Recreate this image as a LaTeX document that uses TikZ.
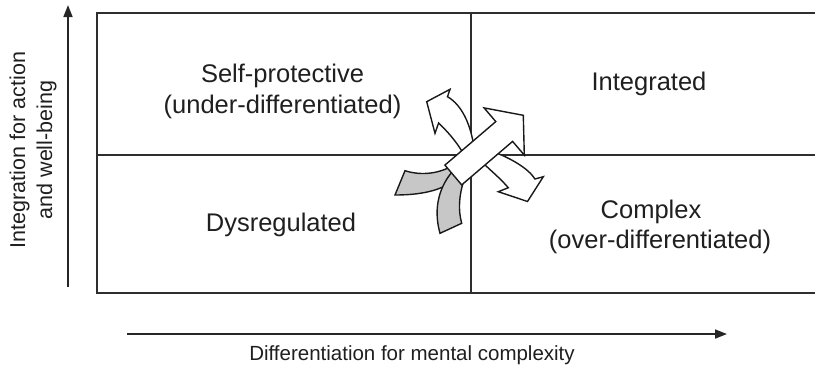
\documentclass[tikz,border=0pt]{standalone}
\usepackage{fontspec}
\setmainfont{Liberation Sans}
\usetikzlibrary{arrows.meta}
\begin{document}
\begin{tikzpicture}[x=1pt,y=-1pt,
  gridline/.style={line width=1.7pt, draw=black!82, line cap=rect},
  axisline/.style={line width=1.7pt, draw=black!85, -{Triangle[length=12pt,width=9pt]}},
  quad/.style={font=\fontsize{25.5}{30}\selectfont, text=black!88, inner sep=0pt, anchor=base},
  xlabel/.style={font=\fontsize{20.5}{26}\selectfont, text=black!88, inner sep=0pt, anchor=base},
  ylabel/.style={font=\fontsize{21.5}{27}\selectfont, text=black!88, inner sep=0pt, rotate=90, align=center},
  whitearrow/.style={fill=white, draw=black!90, line width=1.4pt, line join=miter},
  grayarrow/.style={fill=black!22, draw=black!90, line width=1.4pt, line join=miter},
]
\useasboundingbox (0,0) rectangle (815,365);

% quadrant frame
\coordinate (TR) at (815,13);
\coordinate (TL) at (97,13);
\coordinate (BL) at (97,293);
\coordinate (BR) at (815,293);
\coordinate (ML) at (97,155);
\coordinate (MR) at (815,155);
\coordinate (MT) at (471,13);
\coordinate (MB) at (471,293);
\draw[gridline] (TR) -- (TL) -- (BL) -- (BR);
\draw[gridline] (ML) -- (MR);
\draw[gridline] (MT) -- (MB);

% axes
\coordinate (ys) at (68,287);
\coordinate (ye) at (68,5);
\draw[axisline] (ys) -- (ye);
\coordinate (xs) at (127,334);
\coordinate (xe) at (727,334);
\draw[axisline] (xs) -- (xe);

\node[ylabel] (ylab) at (33,150) {Integration for action\\and well-being};
\node[xlabel] (xlab) at (412,360) {Differentiation for mental complexity};

% quadrant labels
\node[quad] (sp1) at (282.5,82) {Self-protective};
\node[quad] (sp2) at (282.5,113) {(under-differentiated)};
\node[quad] (intg) at (649,90) {Integrated};
\node[quad] (dys) at (281,231.5) {Dysregulated};
\node[quad] (cx1) at (651,218) {Complex};
\node[quad] (cx2) at (660,248) {(over-differentiated)};

% grey incoming bands
\draw[grayarrow] (405,170.7) .. controls (418,175) and (436,175) .. (452,166)
  -- (458,178) .. controls (445,188) and (428,195) .. (395,195) -- cycle;
\draw[grayarrow] (440,233.3) -- (461.7,223.3) .. controls (458,210) and (459,195) .. (464,180)
  -- (452,172) .. controls (437,190) and (434,212) .. (440,233.3) -- cycle;

% curved white arrows
\draw[whitearrow] (474,148) .. controls (471,125) and (462,105) .. (447.5,96.7)
  -- (450,89.3) -- (426.7,101.7) -- (435,133.3) -- (438.6,123)
  .. controls (447,131) and (456,141) .. (463,153) -- cycle;
\draw[whitearrow] (494,152) .. controls (510,158) and (528,168) .. (535,179)
  -- (543.3,176.7) -- (527.5,201.5) -- (498.3,191.7) -- (508.3,187.7)
  .. controls (500,178) and (490,170) .. (482,162) -- cycle;

% main diagonal arrow
\draw[whitearrow] (444.9,165.1) -- (495.8,121.6) -- (484.1,107.9) -- (523.3,115.3)
  -- (524.3,155.1) -- (512.6,141.4) -- (461.7,184.9) -- cycle;
\end{tikzpicture}
\end{document}
